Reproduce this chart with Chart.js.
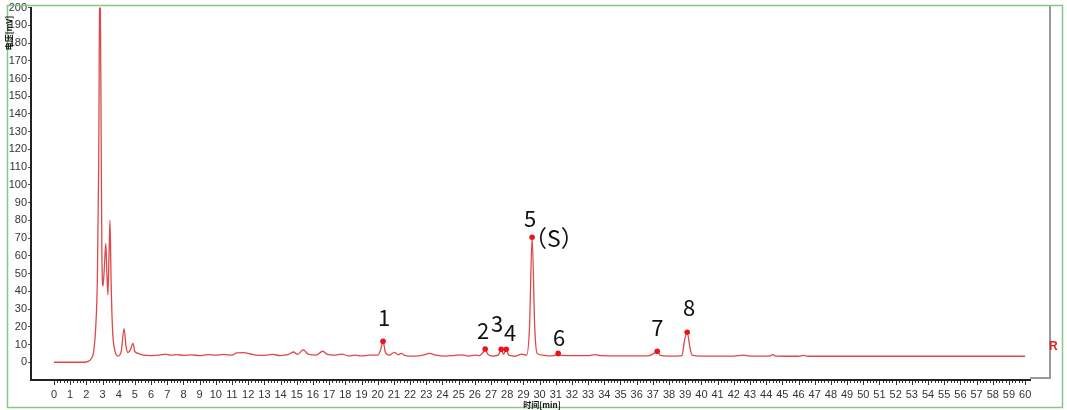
<!DOCTYPE html>
<html>
<head>
<meta charset="utf-8">
<script src="https://cdn.jsdelivr.net/npm/chart.js@4.4.1/dist/chart.umd.min.js"></script>
<style>
    html, body { margin: 0; padding: 0; background: #fff; }
    canvas { display: block; }
</style>
</head>
<body>
<canvas id="chromChart" width="1067" height="410"></canvas>
<script>
// retention time [min] and signal of the trace
const traceTimes = [
    0, 1.9, 2.1, 2.3, 2.45, 2.58, 2.68, 2.76, 2.84, 2.9, 2.96, 3.03, 3.12, 3.2, 3.27, 3.33, 3.4, 3.46, 3.53,
    3.62, 3.75, 3.95, 4.15, 4.33, 4.45, 4.57, 4.72, 4.88, 5.0, 5.2, 5.5, 6.0, 6.5, 6.9, 7.2, 7.6, 8.0, 8.5,
    9.0, 9.5, 10.0, 10.5, 11.0, 11.3, 11.7, 12.1, 12.5, 13.0, 13.5, 14.0, 14.5, 14.8, 15.05, 15.4, 15.7,
    16.2, 16.6, 16.9, 17.3, 17.8, 18.2, 18.6, 19.0, 19.5, 20.0, 20.18, 20.33, 20.48, 20.7, 21.05, 21.25,
    21.45, 21.7, 22.3, 22.8, 23.2, 23.6, 24.2, 24.7, 25.2, 25.6, 26.0, 26.3, 26.5, 26.64, 26.8, 27.1, 27.45,
    27.63, 27.78, 27.94, 28.1, 28.5, 28.9, 29.2, 29.38, 29.54, 29.7, 29.85, 30.2, 30.6, 30.95, 31.15, 31.35,
    32.0, 33.0, 33.4, 33.8, 35.0, 36.0, 36.8, 37.1, 37.27, 37.45, 38.0, 38.8, 38.95, 39.12, 39.28, 39.42,
    40.0, 42.0, 42.6, 43.0, 44.2, 44.4, 44.6, 46.0, 46.3, 46.6, 50.0, 55.0, 60.0,
];
const traceValues = [
    0, 0, 0.5, 2, 6, 20, 47, 110, 230, 150, 60, 43, 55, 67, 50, 38, 60, 80, 45,
    18, 7, 3.5, 6, 19, 9, 5.5, 7, 10.7, 6, 5, 4, 3.8, 4.0, 4.6, 4.0, 4.3, 3.9, 4.2,
    3.7, 4.3, 4.0, 4.4, 4.0, 5.3, 5.4, 4.8, 4.0, 3.9, 4.4, 3.8, 4.4, 5.8, 4.5, 7.0, 4.6,
    4.0, 6.2, 4.4, 4.0, 4.6, 3.6, 4.0, 3.6, 4.0, 4.0, 7, 11.8, 5.5, 4.0, 5.6, 4.2,
    5.0, 3.8, 3.5, 4.0, 5.0, 4.0, 3.5, 3.8, 4.2, 3.5, 4.0, 3.8, 5.5, 7.5, 4.6, 3.5, 4.0,
    7.3, 4.5, 7.3, 4.0, 3.4, 4.6, 4.0, 20, 70.5, 20, 5, 4.0, 3.6, 3.9, 5.0, 3.9,
    3.7, 3.7, 4.3, 3.7, 3.6, 3.6, 3.8, 5.3, 6.2, 3.9, 3.5, 3.8, 12, 16.9, 9, 4,
    3.5, 3.5, 4.0, 3.5, 3.5, 4.3, 3.5, 3.4, 3.9, 3.4, 3.4, 3.4, 3.4,
];

// marked peaks
const peakTimes = [20.33, 26.64, 27.63, 27.94, 29.54, 31.15, 37.27, 39.12];
const peakValues = [11.8, 7.5, 7.3, 7.3, 70.5, 5.0, 6.2, 16.9];
const peakLabels = ['1', '2', '3', '4', '5', '6', '7', '8'];
const standardTag = '（S）';

const xTickValues = Array.from({length: 61}, (_, i) => i);
const yTickValues = [0, 10, 20, 30, 40, 50, 60, 70, 80, 90, 100, 110, 120, 130, 140, 150, 160, 170, 180, 190, 200];

// label offsets from the peak dot, in px
const labelOffsets = [[1, -24], [-2, -18], [-4, -26], [4, -17], [-2, -19], [1, -16], [0, -24], [2, -25]];

const narrowFont = "'Liberation Sans Narrow', 'Liberation Sans', Arial, sans-serif";

const decorPlugin = {
    id: 'decor',
    beforeDraw(chart) {
        const ctx = chart.ctx;
        ctx.save();
        ctx.fillStyle = '#fff';
        ctx.fillRect(0, 0, chart.width, chart.height);
        ctx.restore();
    },
    afterDraw(chart) {
        const {ctx, chartArea: a, scales: {x, y}} = chart;
        ctx.save();

        // ticks on the time axis, every 0.2 min
        ctx.strokeStyle = '#333';
        ctx.lineWidth = 1;
        ctx.beginPath();
        for (let i = 0; i <= 300; i++) {
            const px = Math.round(x.getPixelForValue(i / 5)) + 0.5;
            ctx.moveTo(px, a.bottom + 1);
            ctx.lineTo(px, a.bottom + (i % 5 === 0 ? 5 : 3));
        }
        ctx.stroke();

        // grey frame at the right
        ctx.strokeStyle = '#999';
        ctx.lineWidth = 2;
        ctx.beginPath();
        ctx.moveTo(1050, 5);
        ctx.lineTo(1050, 378);
        ctx.lineTo(a.right, 378);
        ctx.stroke();

        // green outer border
        ctx.strokeStyle = '#86c886';
        ctx.lineWidth = 1.5;
        ctx.strokeRect(7.5, 5.5, 1055, 402);

        // peak labels
        ctx.fillStyle = '#111';
        ctx.font = "22px 'Noto Sans CJK SC', sans-serif";
        ctx.textAlign = 'center';
        ctx.textBaseline = 'middle';
        peakLabels.forEach((lab, i) => {
            const px = x.getPixelForValue(peakTimes[i]) + labelOffsets[i][0];
            const py = y.getPixelForValue(peakValues[i]) + labelOffsets[i][1];
            ctx.fillText(lab, px, py);
        });
        ctx.textAlign = 'left';
        ctx.font = "23px 'Noto Sans CJK SC', sans-serif";
        ctx.fillText(standardTag, x.getPixelForValue(peakTimes[4]) - 8, y.getPixelForValue(peakValues[4]) + 1);

        // "R" marker on the right
        ctx.fillStyle = '#e02020';
        ctx.font = "bold 12px 'Liberation Sans', Arial, sans-serif";
        ctx.fillText('R', 1049, y.getPixelForValue(9));

        // axis titles
        ctx.fillStyle = '#111';
        ctx.font = "bold 8px 'Noto Sans CJK SC', sans-serif";
        ctx.textAlign = 'center';
        ctx.fillText('时间[min]', 542, 405);
        ctx.translate(9, 33);
        ctx.rotate(-Math.PI / 2);
        ctx.fillText('电压[mV]', 0, 0);

        ctx.restore();
    },
};

const ctx = document.getElementById('chromChart').getContext('2d');

new Chart(ctx, {
    type: 'line',
    data: {
        datasets: [
            {
                label: 'trace',
                data: traceTimes.map((t, i) => ({x: t, y: traceValues[i]})),
                borderColor: 'rgb(222, 72, 72)',
                borderWidth: 1.3,
                pointRadius: 0,
                cubicInterpolationMode: 'monotone',
                fill: false,
                order: 2,
            },
            {
                label: 'peaks',
                data: peakTimes.map((t, i) => ({x: t, y: peakValues[i]})),
                showLine: false,
                pointRadius: 2.8,
                pointBackgroundColor: '#e8151c',
                pointBorderColor: '#e8151c',
                pointBorderWidth: 0,
                order: 1,
            },
        ],
    },
    options: {
        responsive: false,
        animation: false,
        devicePixelRatio: 1,
        layout: {
            padding: {top: 6, right: 37, bottom: 0, left: 0},
        },
        plugins: {
            legend: {display: false},
            tooltip: {enabled: false},
        },
        scales: {
            x: {
                type: 'linear',
                min: -1.42,
                max: 60.3,
                afterBuildTicks: (scale) => {
                    scale.ticks = xTickValues.map((v) => ({value: v}));
                },
                afterFit: (scale) => {
                    scale.height = 30;
                },
                grid: {display: true, drawOnChartArea: false, drawTicks: false},
                border: {display: true, color: '#222', width: 2},
                ticks: {
                    autoSkip: false,
                    maxRotation: 0,
                    padding: 8,
                    color: '#333',
                    font: {family: narrowFont, size: 11},
                },
            },
            y: {
                min: -10,
                max: 200,
                afterBuildTicks: (scale) => {
                    scale.ticks = yTickValues.map((v) => ({value: v}));
                },
                afterFit: (scale) => {
                    scale.width = 31;
                },
                grid: {display: true, drawOnChartArea: false, drawTicks: true, tickLength: 3, color: '#555'},
                border: {display: true, color: '#222', width: 2},
                ticks: {
                    autoSkip: false,
                    padding: 1,
                    color: '#333',
                    font: {family: narrowFont, size: 11},
                },
            },
        },
    },
    plugins: [decorPlugin],
});
</script>
</body>
</html>
